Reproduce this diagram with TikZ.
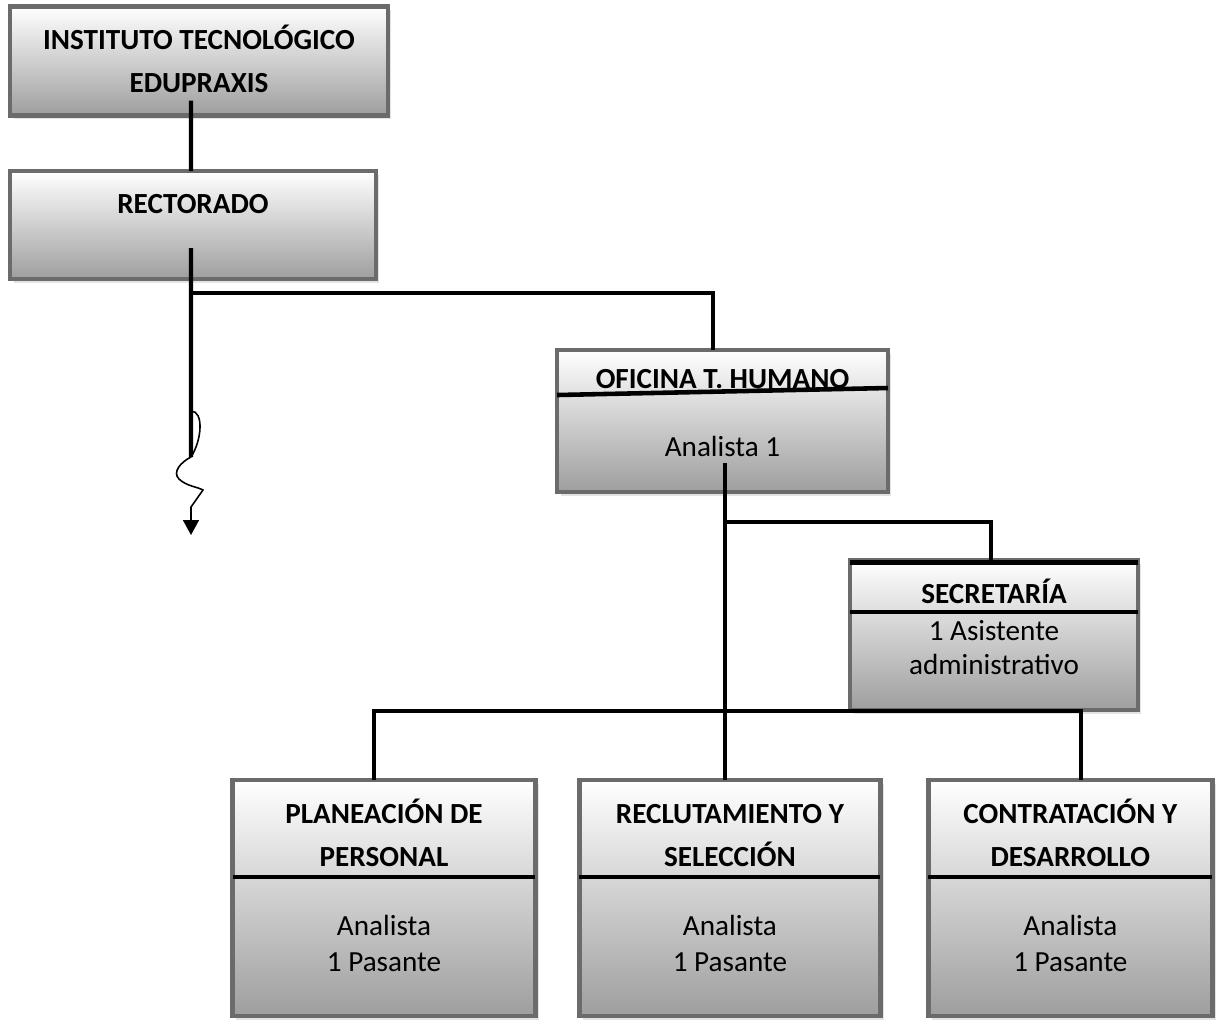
\documentclass[tikz,border=0pt]{standalone}
\usepackage{fontspec}
\setmainfont{Carlito}
\usetikzlibrary{positioning, arrows.meta, shadows}

\begin{document}
\begin{tikzpicture}[
    x=0.02cm, y=-0.02cm,
    unit/.style={draw=black!58, line width=2.6pt, rectangle, inner sep=0pt, outer sep=0pt, top color=white, bottom color=black!38,
        drop shadow={shadow xshift=0.07cm, shadow yshift=-0.07cm, fill=black!22}},
    head/.style={font=\fontsize{16.6}{24}\selectfont\bfseries, align=center, anchor=base},
    body/.style={font=\fontsize{16.6}{20}\selectfont, align=center, anchor=base},
    link/.style={line width=2.3pt},
    divider/.style={line width=2.6pt},
    cutoff/.style={line width=0.9pt, -{Triangle[length=0.3cm, width=0.32cm]}}
]
    \useasboundingbox (0,0) rectangle (1216,1019);

    % Direction (top)
    \node[unit, minimum width=7.56cm, minimum height=2.18cm] (inst) at (199,61) {};
    \node[head] (insth) at ([yshift=-0.62cm]inst.center) {INSTITUTO TECNOLÓGICO\\EDUPRAXIS};
    \node[unit, minimum width=7.32cm, minimum height=2.16cm] (rect) at (193,225) {};
    \node[head] (recth) at ([yshift=0.24cm]rect.center) {RECTORADO};

    % Oficina and secretaria
    \node[unit, minimum width=6.62cm, minimum height=2.84cm] (ofic) at (722.5,421) {};
    \node[head] (ofich) at ([yshift=0.66cm]ofic.center) {OFICINA T. HUMANO};
    \node[body] (oficb) at ([yshift=-0.7cm]ofic.center) {Analista 1};
    \draw[divider] ([yshift=0.52cm]ofic.west) -- ([yshift=0.66cm]ofic.east);

    \node[unit, minimum width=5.76cm, minimum height=3cm] (secr) at (994,635) {};
    \node[head] (secrh) at ([yshift=0.64cm]secr.center) {SECRETARÍA};
    \node[body, font=\fontsize{16.6}{19.4}\selectfont] (secrb) at ([yshift=-0.79cm]secr.center) {1 Asistente\\administrativo};
    \draw[divider] ([yshift=-0.05cm]secr.north west) -- ([yshift=-0.05cm]secr.north east);
    \draw[divider] ([yshift=0.46cm]secr.west) -- ([yshift=0.46cm]secr.east);

    % Areas (bottom row)
    \node[unit, minimum width=6.06cm, minimum height=4.72cm] (plan) at (384,898) {};
    \node[unit, minimum width=6.02cm, minimum height=4.72cm, right=0.88cm of plan] (recl) {};
    \node[unit, minimum width=5.68cm, minimum height=4.72cm, right=0.96cm of recl] (cont) {};

    \node[head] (planh) at ([yshift=0.64cm]plan.center) {PLANEACIÓN DE\\PERSONAL};
    \node[head] (reclh) at ([yshift=0.64cm]recl.center) {RECLUTAMIENTO Y\\SELECCIÓN};
    \node[head] (conth) at ([yshift=0.64cm]cont.center) {CONTRATACIÓN Y\\DESARROLLO};
    \node[body] (planb) at ([yshift=-1.46cm]plan.center) {Analista\\1 Pasante};
    \node[body] (reclb) at ([yshift=-1.46cm]recl.center) {Analista\\1 Pasante};
    \node[body] (contb) at ([yshift=-1.46cm]cont.center) {Analista\\1 Pasante};
    \draw[divider] ([yshift=0.42cm]plan.west) -- ([yshift=0.42cm]plan.east);
    \draw[divider] ([yshift=0.42cm]recl.west) -- ([yshift=0.42cm]recl.east);
    \draw[divider] ([yshift=0.42cm]cont.west) -- ([yshift=0.42cm]cont.east);

    % Junctions
    \coordinate (hub1) at (191,293);
    \coordinate (cut) at (191,457);
    \coordinate (hub2) at (725,522);
    \coordinate (hub3) at (725,711);

    % Connectors
    \draw[link] ([xshift=-0.16cm, yshift=0.3cm]inst.south) -- ([xshift=-0.04cm]rect.north);
    \draw[link] ([xshift=-0.04cm, yshift=0.62cm]rect.south) -- (cut);
    \draw[link] (hub1) -| ([xshift=-0.19cm]ofic.north);
    \draw[link] ([xshift=0.05cm, yshift=0.58cm]ofic.south) coordinate (oficout) -- (oficout |- recl.north);
    \draw[link] (hub2) -| ([xshift=-0.06cm, yshift=-0.05cm]secr.north);
    \draw[link] ([xshift=-0.2cm]plan.north) |- (hub3) -| ([xshift=0.22cm]cont.north);

    % Cut-off branch
    \draw[line width=0.9pt] (191,411) .. controls (204,411) and (202,440) .. (cut);
    \draw[cutoff] (cut) .. controls (181,462) and (172,472) .. (179,479)
        .. controls (186,486) and (198,487) .. (203,490) -- (191,507) -- (191,535);
\end{tikzpicture}
\end{document}
